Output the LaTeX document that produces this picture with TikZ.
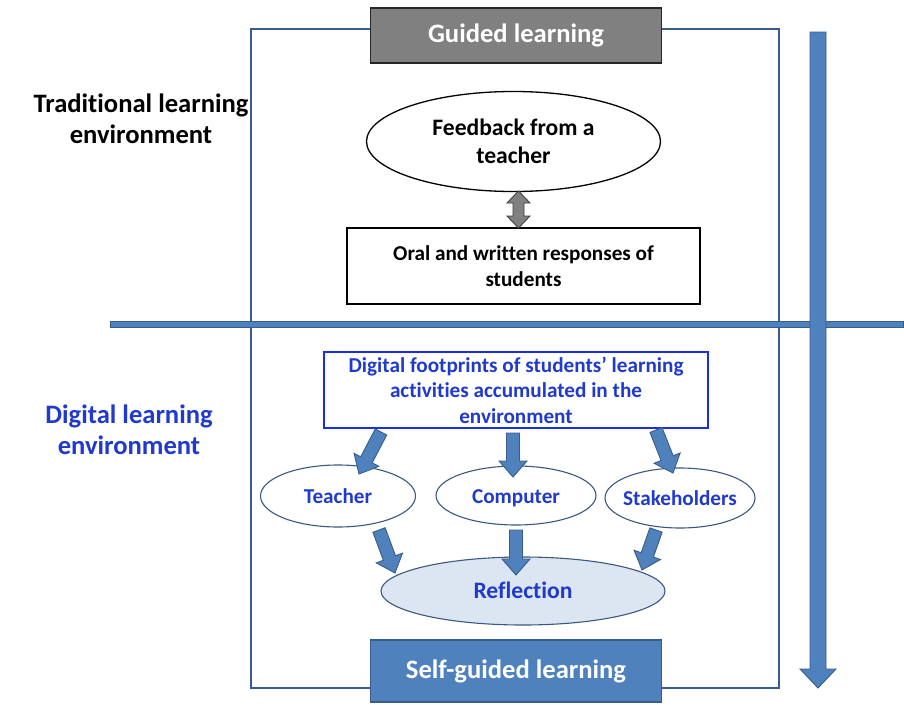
\documentclass[tikz,border=0pt]{standalone}
\usepackage{fontspec}
\setmainfont{Carlito}[Ligatures=NoCommon]
\usetikzlibrary{shapes.geometric}
\definecolor{blueA}{RGB}{79,129,189}
\definecolor{blueB}{RGB}{56,93,138}
\definecolor{txtblue}{RGB}{32,58,205}
\definecolor{boxblue}{RGB}{25,45,235}
\definecolor{ellb}{RGB}{60,88,128}
\definecolor{reflfill}{RGB}{220,230,242}
\definecolor{grayA}{RGB}{128,128,128}
\newcommand\blockarr[6][barrow]{%
  \pgfpointdiff{\pgfpointanchor{#2}{center}}{\pgfpointanchor{#3}{center}}%
  \pgfgetlastxy{\bdx}{\bdy}%
  \pgfmathsetmacro\bang{atan2(\bdy,\bdx)}%
  \pgfmathsetmacro\blen{veclen(\bdx,\bdy)}%
  \begin{scope}[shift={(#2)},rotate=\bang]
    \filldraw[#1] (0pt,-#4pt) -- ({\blen pt-#6pt},-#4pt) -- ({\blen pt-#6pt},-#5pt)
      -- ({\blen pt},0pt) -- ({\blen pt-#6pt},#5pt) -- ({\blen pt-#6pt},#4pt) -- (0pt,#4pt) -- cycle;
  \end{scope}}
\newcommand\dblarr[6][barrow]{%
  \pgfpointdiff{\pgfpointanchor{#2}{center}}{\pgfpointanchor{#3}{center}}%
  \pgfgetlastxy{\bdx}{\bdy}%
  \pgfmathsetmacro\bang{atan2(\bdy,\bdx)}%
  \pgfmathsetmacro\blen{veclen(\bdx,\bdy)}%
  \begin{scope}[shift={(#2)},rotate=\bang]
    \filldraw[#1] (0pt,0pt) -- (#6pt,-#5pt) -- (#6pt,-#4pt) -- ({\blen pt-#6pt},-#4pt) -- ({\blen pt-#6pt},-#5pt)
      -- ({\blen pt},0pt) -- ({\blen pt-#6pt},#5pt) -- ({\blen pt-#6pt},#4pt) -- (#6pt,#4pt) -- (#6pt,#5pt) -- cycle;
  \end{scope}}
\tikzset{
  barrow/.style={fill=blueA,draw=blueB,line width=0.9pt,line join=miter},
  grayarrow/.style={fill=grayA,draw=black!75,line width=0.9pt},
  frame/.style={draw=blueB,line width=1.1pt,rectangle,inner sep=0pt},
  bigtxt/.style={font=\bfseries\fontsize{26.6}{31}\selectfont,align=center},
  midtxt/.style={font=\bfseries\fontsize{23.6}{28}\selectfont,align=center},
  smtxt/.style={font=\bfseries\fontsize{21.2}{25.5}\selectfont,align=center},
  ovalb/.style={ellipse,draw=ellb,line width=1.1pt,fill=white,inner xsep=-16pt,inner ysep=0pt,
    text height=17.5pt,text depth=2pt,text=txtblue},
}
\begin{document}
\begin{tikzpicture}[x=1pt,y=-1pt]
\useasboundingbox (0,0) rectangle (904,704);
\fill[white] (0,0) rectangle (904,704);
% outer frame
\node[frame,minimum width=528pt,minimum height=659pt] (frame) at (515,358.5) {};
% guided learning
\node[rectangle,fill=grayA,draw=black!85,line width=1.3pt,minimum width=291pt,minimum height=55pt,inner sep=0pt,
  text=white,bigtxt] (guided) at (516,35.5) {Guided learning};
% labels
\node[bigtxt] (trad) at (141,119) {Traditional learning\\environment};
\node[bigtxt,text=txtblue] (digital) at (129,430) {Digital learning\\environment};
% feedback
\node[ellipse,draw=black,line width=1.3pt,minimum width=294pt,minimum height=100pt,inner sep=0pt,midtxt]
  (feedback) at (513.5,141.5) {Feedback from a\\teacher};
\node[rectangle,draw=black,line width=1.3pt,minimum width=353pt,minimum height=76pt,inner sep=0pt,smtxt]
  (oral) at (523.5,266) {Oral and written responses of\\students};
\coordinate (d1) at (518.5,191);
\coordinate (d2) at (518.5,228);
\dblarr[grayarrow]{d1}{d2}{5.5}{11.5}{12}
% bar
\node[rectangle,fill=blueA,draw=blueB,line width=0.9pt,minimum width=793pt,minimum height=6pt,inner sep=0pt]
  (bar) at (506.5,324) {};
% vertical arrow
\coordinate (va1) at (818,32);
\coordinate (va2) at (818,688);
\blockarr{va1}{va2}{8}{18}{19}
% digital footprints box
\node[rectangle,draw=boxblue,line width=1.5pt,minimum width=384pt,minimum height=76pt,inner sep=0pt,smtxt,text=txtblue]
  (foot) at (516,390) {Digital footprints of students’ learning\\activities accumulated in the\\environment};
% ovals
\node[ovalb,minimum width=155pt,minimum height=62pt,smtxt] (teacher) at (338,496) {Teacher};
\node[ovalb,minimum width=160pt,minimum height=59pt,smtxt] (computer) at (516,495.5) {Computer};
\node[ovalb,minimum width=150pt,minimum height=60pt,smtxt] (stake) at (680,498) {Stakeholders};
\node[ovalb,fill=reflfill,minimum width=284pt,minimum height=68pt,midtxt] (refl) at (523,591) {Reflection};
% self-guided
\node[rectangle,fill=blueA,draw=blueB,line width=1.3pt,minimum width=291pt,minimum height=62pt,inner sep=0pt,
  text=white,bigtxt] (self) at (516,671) {Self-guided learning};
% block arrows
\coordinate (a1s) at (381,432); \coordinate (a1e) at (359,474);
\coordinate (a2s) at (513,433); \coordinate (a2e) at (513,477);
\coordinate (a3s) at (656,430); \coordinate (a3e) at (673,473);
\coordinate (b1s) at (379,530); \coordinate (b1e) at (395,573);
\coordinate (b2s) at (516,530); \coordinate (b2e) at (516,575);
\coordinate (b3s) at (656,530); \coordinate (b3e) at (642,570);
\blockarr{a1s}{a1e}{6.5}{14}{16}
\blockarr{a2s}{a2e}{6.5}{14}{16}
\blockarr{a3s}{a3e}{6.5}{14}{16}
\blockarr{b1s}{b1e}{6.5}{14}{16}
\blockarr{b2s}{b2e}{6.5}{14}{16}
\blockarr{b3s}{b3e}{6.5}{14}{16}
\end{tikzpicture}
\end{document}
